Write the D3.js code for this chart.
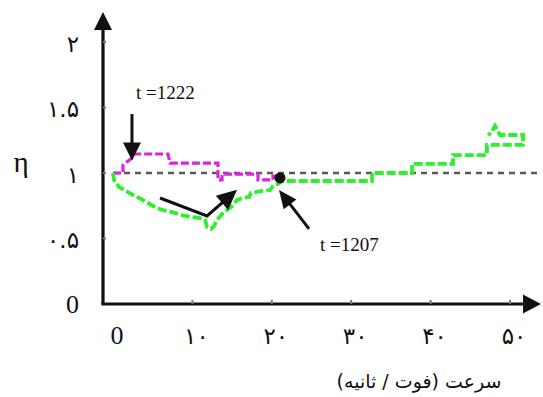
<!DOCTYPE html>
<html>
<head>
<meta charset="utf-8">
<script src="https://cdn.jsdelivr.net/npm/d3@7"></script>
<style>
  html, body { margin: 0; padding: 0; background: #fff; }
  svg { display: block; }
</style>
</head>
<body>
<svg id="chart" width="543" height="397"></svg>
<script>
// Axis ticks (Persian numerals as printed)
const xTicks = [0, 10, 20, 30, 40, 50];
const xTickLabels = ["0", "۱۰", "۲۰", "۳۰", "۴۰", "۵۰"];
const yTicks = [0, 0.5, 1, 1.5, 2];
const yTickLabels = ["0", "۰.۵", "۱", "۱.۵", "۲"];

// Green series: speed (ft/s) vs efficiency η
const greenX = [0, 0.13, 0.76, 1.64, 2.52, 3.53, 4.41, 5.29, 6.17, 7.43, 8.69, 9.95, 10.96, 11.59, 11.84, 12.34, 12.72, 13.1, 13.73, 14.36, 14.99, 15.62, 16.37, 17.13, 17.38, 18.77, 19.77, 20.15, 20.78, 21.28, 23.55, 32.62, 32.62, 37.66, 37.66, 42.82, 42.82, 47.1, 47.1, 51.26, 51.64, 51.64, 48.74, 48.11, 47.61, 47.23];
const greenY = [1.0, 0.947, 0.893, 0.863, 0.832, 0.802, 0.771, 0.74, 0.718, 0.702, 0.679, 0.664, 0.656, 0.641, 0.588, 0.573, 0.595, 0.641, 0.687, 0.718, 0.748, 0.794, 0.809, 0.817, 0.847, 0.863, 0.87, 0.901, 0.916, 0.939, 0.939, 0.939, 1.0, 1.0, 1.069, 1.069, 1.137, 1.137, 1.214, 1.214, 1.214, 1.29, 1.29, 1.359, 1.305, 1.29];

// Magenta series
const magentaX = [0, 1.26, 1.26, 2.39, 2.64, 6.93, 7.18, 13.22, 13.22, 13.73, 13.73, 18.26, 18.26, 20.15, 20.15, 21.03];
const magentaY = [1.0, 1.0, 1.061, 1.115, 1.145, 1.145, 1.076, 1.076, 0.947, 0.947, 0.992, 0.992, 0.947, 0.947, 0.977, 0.969];

// Reference level η = 1
const refLevel = 1;
const refX = [0, 53.5];

// Marked point t = 1207
const markX = [21.03];
const markY = [0.962];

// Annotation arrows (polyline points in data units; arrowhead at last point)
const arrow1222X = [2.39, 2.39];
const arrow1222Y = [1.45, 1.095];
const arrowMidX = [5.92, 11.84, 15.62];
const arrowMidY = [0.809, 0.672, 0.872];
const arrow1207X = [24.69, 20.91];
const arrow1207Y = [0.573, 0.87];

const svg = d3.select("#chart");

const x = d3.scaleLinear().domain([0, 50]).range([113, 510]);
const y = d3.scaleLinear().domain([0, 2]).range([304, 42]);

const axisLeft = 103, axisBottom = y(0);
const xArrowTip = 541, yArrowTip = 12;

const serif = "'Liberation Serif', 'Times New Roman', 'DejaVu Sans', serif";
const persian = "'DejaVu Sans', 'Noto Sans', sans-serif";

// Axes with arrowheads
svg.append("line")
  .attr("x1", axisLeft).attr("y1", axisBottom)
  .attr("x2", axisLeft).attr("y2", yArrowTip + 14)
  .attr("stroke", "#111").attr("stroke-width", 3.2);
svg.append("path")
  .attr("d", `M${axisLeft},${yArrowTip} L${axisLeft - 9},${yArrowTip + 18} L${axisLeft + 9},${yArrowTip + 18} Z`)
  .attr("fill", "#111");
svg.append("line")
  .attr("x1", axisLeft - 1.6).attr("y1", axisBottom)
  .attr("x2", xArrowTip - 14).attr("y2", axisBottom)
  .attr("stroke", "#111").attr("stroke-width", 3.2);
svg.append("path")
  .attr("d", `M${xArrowTip},${axisBottom} L${xArrowTip - 18},${axisBottom - 9.5} L${xArrowTip - 18},${axisBottom + 9.5} Z`)
  .attr("fill", "#111");

// Small tick marks
svg.append("g").selectAll("line").data(xTicks.slice(1)).join("line")
  .attr("x1", d => x(d)).attr("x2", d => x(d))
  .attr("y1", axisBottom - 4).attr("y2", axisBottom)
  .attr("stroke", "#777").attr("stroke-width", 2);
svg.append("g").selectAll("line").data(yTicks.slice(1)).join("line")
  .attr("x1", axisLeft).attr("x2", axisLeft + 3)
  .attr("y1", d => y(d)).attr("y2", d => y(d))
  .attr("stroke", "#777").attr("stroke-width", 2);

// Tick labels
svg.append("g").selectAll("text").data(yTicks).join("text")
  .attr("x", 79).attr("y", d => y(d))
  .attr("dy", (d, i) => i === 0 ? "0.35em" : "0.42em")
  .attr("text-anchor", "end")
  .attr("font-family", (d, i) => i === 0 ? serif : persian)
  .attr("font-size", (d, i) => i === 0 ? 26 : 23)
  .attr("fill", "#111")
  .text((d, i) => yTickLabels[i]);

svg.append("g").selectAll("text").data(xTicks).join("text")
  .attr("x", d => x(d) + 4).attr("y", 344)
  .attr("text-anchor", "middle")
  .attr("font-family", (d, i) => i === 0 ? serif : persian)
  .attr("font-size", (d, i) => i === 0 ? 26 : 23)
  .attr("letter-spacing", (d, i) => i === 0 ? 0 : 5)
  .attr("fill", "#111")
  .text((d, i) => xTickLabels[i]);

// Axis titles
svg.append("text")
  .attr("x", 21).attr("y", 172)
  .attr("text-anchor", "middle")
  .attr("font-family", serif).attr("font-size", 29)
  .attr("fill", "#111")
  .text("η");

svg.append("text")
  .attr("x", 419).attr("y", 388)
  .attr("text-anchor", "middle")
  .attr("direction", "rtl")
  .attr("font-family", persian).attr("font-size", 19)
  .attr("fill", "#111")
  .text("سرعت (فوت / ثانیه)");

// Reference level
svg.append("line")
  .attr("x1", x(refX[0])).attr("x2", x(refX[1]))
  .attr("y1", y(refLevel)).attr("y2", y(refLevel))
  .attr("stroke", "#5a5a5a").attr("stroke-width", 2.5)
  .attr("stroke-dasharray", "6,5");

const line = d3.line().x(d => x(d[0])).y(d => y(d[1]));

// Magenta series
svg.append("path")
  .datum(d3.zip(magentaX, magentaY))
  .attr("d", line)
  .attr("fill", "none")
  .attr("stroke", "#dd22dd").attr("stroke-width", 3.2)
  .attr("stroke-dasharray", "8,3");

// Green series
svg.append("path")
  .datum(d3.zip(greenX, greenY))
  .attr("d", line)
  .attr("fill", "none")
  .attr("stroke", "#2bf02b").attr("stroke-width", 3.8)
  .attr("stroke-dasharray", "9,3");

// Marked point
svg.append("g").selectAll("circle").data(d3.zip(markX, markY)).join("circle")
  .attr("cx", d => x(d[0])).attr("cy", d => y(d[1]))
  .attr("r", 5.5).attr("fill", "#111");

// Annotation arrows
function arrow(xs, ys, headLen, headHalf, width) {
  const pts = d3.zip(xs, ys).map(d => [x(d[0]), y(d[1])]);
  const n = pts.length;
  const [tx, ty] = pts[n - 1];
  const [px, py] = pts[n - 2];
  const ang = Math.atan2(ty - py, tx - px);
  const bx = tx - headLen * Math.cos(ang), by = ty - headLen * Math.sin(ang);
  const shaft = pts.slice(0, n - 1).concat([[bx + 2 * Math.cos(ang), by + 2 * Math.sin(ang)]]);
  svg.append("path")
    .attr("d", d3.line()(shaft))
    .attr("fill", "none").attr("stroke", "#111").attr("stroke-width", width)
    .attr("stroke-linejoin", "miter");
  const nx = -Math.sin(ang), ny = Math.cos(ang);
  svg.append("path")
    .attr("d", `M${tx},${ty} L${bx + nx * headHalf},${by + ny * headHalf} L${bx - nx * headHalf},${by - ny * headHalf} Z`)
    .attr("fill", "#111");
}
arrow(arrow1222X, arrow1222Y, 18, 9, 3);
arrow(arrowMidX, arrowMidY, 20, 9.5, 3);
arrow(arrow1207X, arrow1207Y, 18, 8, 3);

// Annotation labels
svg.append("text")
  .attr("x", 136).attr("y", 99)
  .attr("font-family", serif).attr("font-size", 19)
  .attr("fill", "#111")
  .text("t =1222");
svg.append("text")
  .attr("x", 320).attr("y", 251)
  .attr("font-family", serif).attr("font-size", 19)
  .attr("fill", "#111")
  .text("t =1207");
</script>
</body>
</html>
